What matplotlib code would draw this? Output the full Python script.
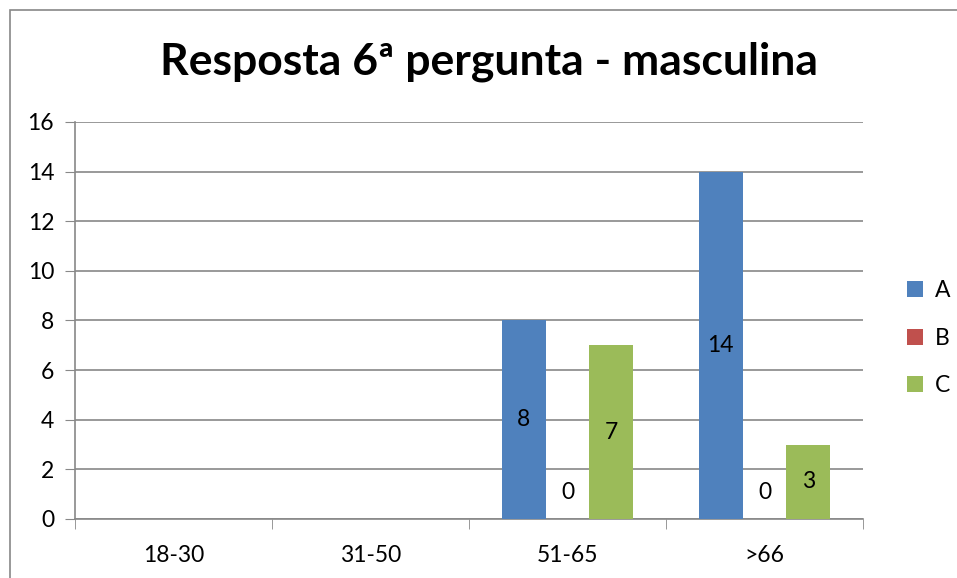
import matplotlib.pyplot as plt
import numpy as np
from matplotlib.patches import Rectangle

categories = ["18-30", "31-50", "51-65", ">66"]
series_names = ["A", "B", "C"]
values_a = [np.nan, np.nan, 8, 14]
values_b = [np.nan, np.nan, 0, 0]
values_c = [np.nan, np.nan, 7, 3]
colors = ["#4F81BD", "#C0504D", "#9BBB59"]

plt.rcParams["font.family"] = ["Lato", "DejaVu Sans"]

fig = plt.figure(figsize=(9.57, 5.78), dpi=100)
ax = fig.add_axes([0.0784, 0.1021, 0.8234, 0.6869])

# outer chart border
fig.patches.append(Rectangle((10 / 957, -0.01), 1.0, 1 - 10 / 578 + 0.01,
                             transform=fig.transFigure, fill=False,
                             edgecolor="#888888", linewidth=1.2))

x = np.arange(len(categories))
width = 0.223
all_vals = [values_a, values_b, values_c]
for i, (vals, name, col) in enumerate(zip(all_vals, series_names, colors)):
    pos = x + (i - 1) * width
    ax.bar(pos, np.nan_to_num(vals), width, color=col, label=name, zorder=3)
    for p, v in zip(pos, vals):
        if np.isnan(v):
            continue
        if v == 0:
            ax.annotate("0", (p, 0), xytext=(0, 26), textcoords="offset pixels",
                        ha="center", va="center", fontsize=16.5)
        else:
            ax.text(p, v / 2, f"{v:g}", ha="center", va="center", fontsize=16.5, zorder=4)

ax.set_xlim(-0.5, len(categories) - 0.5)
ax.set_ylim(0, 16)
ax.set_yticks(range(0, 17, 2))
ax.set_xticks(x)
ax.set_xticklabels(categories)
ax.set_xticks(np.arange(-0.5, len(categories), 1), minor=True)
ax.tick_params(axis="x", which="major", length=0, labelsize=16.5, pad=19)
ax.tick_params(axis="x", which="minor", length=7, color="#888888", direction="out")
ax.tick_params(axis="y", length=7, color="#888888", labelsize=16.5, pad=8)
ax.yaxis.grid(True, color="#888888", linewidth=1.2, zorder=0)
for s in ["top", "right"]:
    ax.spines[s].set_visible(False)
for s in ["left", "bottom"]:
    ax.spines[s].set_color("#888888")
    ax.spines[s].set_linewidth(1.2)

fig.text(0.511, 0.893, "Resposta 6ª pergunta - masculina", ha="center", va="center",
         fontsize=32, fontweight="bold")

ax.legend(loc="center left", bbox_to_anchor=(1.03, 0.455), frameon=False,
          fontsize=16.5, handlelength=0.7, handleheight=0.7, labelspacing=1.15,
          handletextpad=0.5)

fig.savefig("out.png", dpi=100)
